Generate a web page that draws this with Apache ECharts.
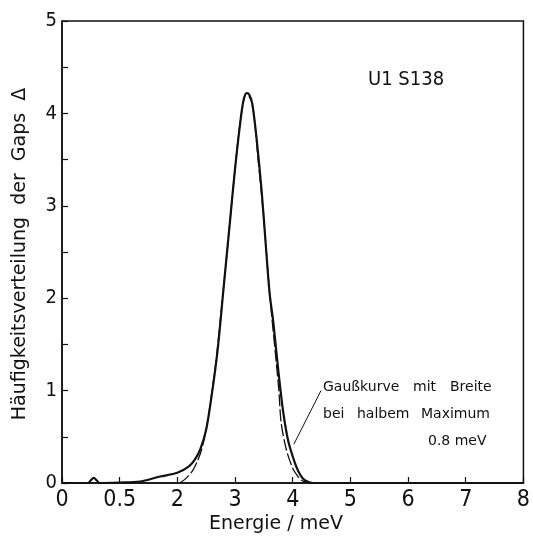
<!DOCTYPE html>
<html>
<head>
<meta charset="utf-8">
<script src="https://cdn.jsdelivr.net/npm/echarts@6/dist/echarts.min.js"></script>
<style>
  html, body { margin: 0; padding: 0; background: #fff; }
  #chart { width: 533px; height: 536px; }
</style>
</head>
<body>
<div id="chart"></div>
<script>
// Measured distribution (solid): [energy meV, frequency]
const measuredX = [0, 0.45, 0.5, 0.55, 0.6, 0.65, 1.0, 1.35, 1.7, 2.0, 2.2, 2.3, 2.4, 2.5, 2.6, 2.7, 2.8, 2.9, 3.0, 3.1, 3.15, 3.2, 3.25, 3.3, 3.37, 3.46, 3.53, 3.6, 3.66, 3.75, 3.83, 3.9, 3.95, 4.06, 4.14, 4.21, 4.35, 8];
const measuredY = [0, 0, 0.03, 0.055, 0.03, 0, 0.005, 0.015, 0.07, 0.11, 0.18, 0.25, 0.37, 0.58, 0.97, 1.45, 2.1, 2.75, 3.4, 3.95, 4.15, 4.22, 4.2, 4.1, 3.75, 3.17, 2.6, 2.05, 1.76, 1.22, 0.79, 0.52, 0.39, 0.18, 0.08, 0.03, 0, 0];
// Gaussian fit (dashed)
const gaussX = [2.04, 2.15, 2.27, 2.35, 2.42, 2.48, 2.53, 2.58, 2.62, 2.68, 2.75, 2.8, 2.9, 3.0, 3.1, 3.2, 3.3, 3.4, 3.5, 3.6, 3.7, 3.76, 3.8, 3.89, 4.0, 4.08, 4.15, 4.29];
const gaussY = [0, 0.05, 0.14, 0.24, 0.36, 0.52, 0.68, 0.9, 1.08, 1.37, 1.8, 2.1, 2.75, 3.4, 3.95, 4.22, 4.1, 3.5, 2.85, 2.05, 1.4, 1.0, 0.65, 0.36, 0.16, 0.08, 0.03, 0];
// Leader line of annotation (data units)
const leaderX = [4.49, 4.02];
const leaderY = [1.0, 0.42];
// Tick labels
const xTickLabels = ["0", "0.5", "2", "3", "4", "5", "6", "7", "8"];
const yTickLabels = ["0", "1", "2", "3", "4", "5"];

const zip = (a, b) => a.map((v, i) => [v, b[i]]);
const ink = '#111';
const fontMain = '"DejaVu Sans Condensed", "DejaVu Sans", sans-serif';

const chart = echarts.init(document.getElementById('chart'), null, { renderer: 'canvas' });

const annot = [
  { t: 'Gaußkurve', x: 323, y: 387 },
  { t: 'mit', x: 413, y: 387 },
  { t: 'Breite', x: 450, y: 387 },
  { t: 'bei', x: 323, y: 414 },
  { t: 'halbem', x: 357, y: 414 },
  { t: 'Maximum', x: 421, y: 414 },
  { t: '0.8 meV', x: 428, y: 441 }
];

chart.setOption({
  backgroundColor: '#fff',
  animation: false,
  grid: { left: 62, right: 9, top: 21, bottom: 53, show: true, borderColor: ink, borderWidth: 1.5, backgroundColor: 'transparent' },
  xAxis: {
    type: 'value', min: 0, max: 8, interval: 1,
    axisLine: { show: true, lineStyle: { color: ink, width: 1.5 } },
    axisTick: { show: true, inside: true, length: 6, lineStyle: { color: ink, width: 1.2 } },
    axisLabel: { show: true, color: ink, fontFamily: fontMain, fontSize: 23, margin: 6,
      formatter: v => xTickLabels[Math.round(v)] },
    splitLine: { show: false }
  },
  yAxis: {
    type: 'value', min: 0, max: 5, interval: 1,
    axisLine: { show: true, lineStyle: { color: ink, width: 1.5 } },
    axisTick: { show: true, inside: true, length: 6, lineStyle: { color: ink, width: 1.2 } },
    minorTick: { show: true, splitNumber: 2, length: 6, lineStyle: { color: ink, width: 1.2 } },
    axisLabel: { show: true, color: ink, fontFamily: fontMain, fontSize: 20, margin: 5,
      formatter: v => yTickLabels[Math.round(v)] },
    splitLine: { show: false }
  },
  series: [
    { type: 'line', data: zip(gaussX, gaussY), smooth: 0.3, showSymbol: false, silent: true,
      lineStyle: { color: ink, width: 1.3, type: [12, 3] }, z: 2 },
    { type: 'line', data: zip(measuredX, measuredY), smooth: 0.3, showSymbol: false, silent: true,
      lineStyle: { color: ink, width: 2.2 }, z: 3 },
    { type: 'line', data: zip(leaderX, leaderY), showSymbol: false, silent: true,
      lineStyle: { color: ink, width: 1 }, z: 3 }
  ],
  graphic: [
    { type: 'text', x: 20, y: 254, rotation: Math.PI / 2,
      style: { text: 'Häufigkeitsverteilung  der  Gaps  Δ', fill: ink, font: '19px "DejaVu Sans", sans-serif', textAlign: 'center', textVerticalAlign: 'middle' } },
    { type: 'text', x: 276, y: 524,
      style: { text: 'Energie / meV', fill: ink, font: '19px "DejaVu Sans", sans-serif', textAlign: 'center', textVerticalAlign: 'middle' } },
    { type: 'text', x: 368, y: 80,
      style: { text: 'U1 S138', fill: ink, font: '20px "DejaVu Sans Condensed", "DejaVu Sans", sans-serif', textAlign: 'left', textVerticalAlign: 'middle' } }
  ].concat(annot.map(a => ({ type: 'text', x: a.x, y: a.y,
      style: { text: a.t, fill: ink, font: '14px "DejaVu Sans", sans-serif', textAlign: 'left', textVerticalAlign: 'middle' } })))
});
</script>
</body>
</html>
